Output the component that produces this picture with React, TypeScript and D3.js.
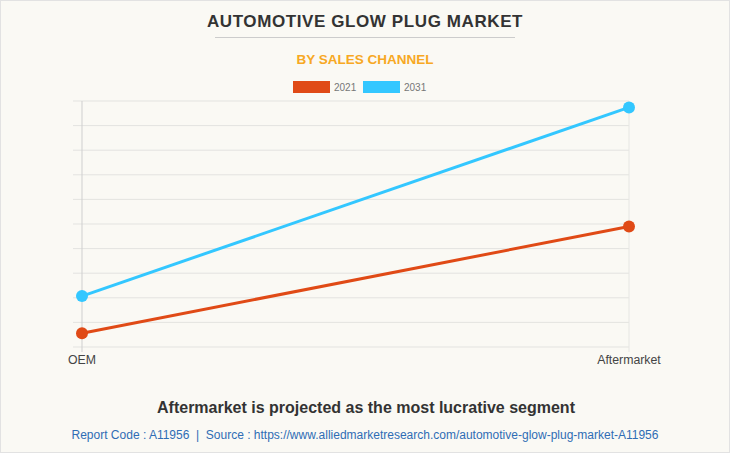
import React from "react";
import * as d3 from "d3";

const categories = ["OEM", "Aftermarket"];
const seriesNames = ["2021", "2031"];
const values2021 = [56, 490];
const values2031 = [207, 974];
const seriesColors = ["#e04a16", "#33c7ff"];
const yTicks = [0, 100, 200, 300, 400, 500, 600, 700, 800, 900, 1000];

const W = 730;
const H = 453;

export default function App() {
  const x = d3.scalePoint<string>().domain(categories).range([82, 629]);
  const y = d3.scaleLinear().domain([0, 1000]).range([347, 101]);
  const series = [values2021, values2031];
  const line = d3
    .line<number>()
    .x((_, i) => x(categories[i]) as number)
    .y((d) => y(d));
  const font = "Arial, 'Liberation Sans', sans-serif";

  return (
    <svg
      width={W}
      height={H}
      style={{ position: "absolute", left: 0, top: 0, background: "#faf9f4" }}
      fontFamily={font}
    >
      <rect x={0.5} y={0.5} width={W - 1} height={H - 1} fill="#faf9f4" stroke="#e2e2e2" />
      <text x={365} y={27} textAnchor="middle" fontSize={17} fontWeight="bold" fill="#333" letterSpacing={0.6}>
        AUTOMOTIVE GLOW PLUG MARKET
      </text>
      <line x1={215} x2={515} y1={37.5} y2={37.5} stroke="#cccccc" />
      <text x={365} y={64} textAnchor="middle" fontSize={13.5} fontWeight="bold" fill="#f7a823">
        BY SALES CHANNEL
      </text>
      {seriesNames.map((s, i) => (
        <g key={s} transform={`translate(${293 + i * 70},81)`}>
          <rect width={37} height={12} fill={seriesColors[i]} />
          <text x={41} y={10} fontSize={10} fill="#777">
            {s}
          </text>
        </g>
      ))}
      {yTicks.map((t) => (
        <line key={t} x1={73} x2={629} y1={y(t)} y2={y(t)} stroke="#e3e3e0" strokeWidth={1} />
      ))}
      {categories.map((c, i) => (
        <g key={c}>
          <line
            x1={x(c)}
            x2={x(c)}
            y1={101}
            y2={352}
            stroke={i === 0 ? "#cfcfcf" : "#e6e6e3"}
          />
          <text x={x(c)} y={364} textAnchor="middle" fontSize={12.3} fill="#444">
            {c}
          </text>
        </g>
      ))}
      {series.map((vals, si) => (
        <g key={si}>
          <path d={line(vals) || ""} fill="none" stroke={seriesColors[si]} strokeWidth={3} />
          {vals.map((v, i) => (
            <circle key={i} cx={x(categories[i])} cy={y(v)} r={6} fill={seriesColors[si]} />
          ))}
        </g>
      ))}
      <text x={366} y={413} textAnchor="middle" fontSize={16} fontWeight="bold" fill="#333">
        Aftermarket is projected as the most lucrative segment
      </text>
      <text x={365} y={439} textAnchor="middle" fontSize={12} fill="#2f6db5" style={{ whiteSpace: "pre" }}>
        {"Report Code : A11956  |  Source : https://www.alliedmarketresearch.com/automotive-glow-plug-market-A11956"}
      </text>
    </svg>
  );
}
